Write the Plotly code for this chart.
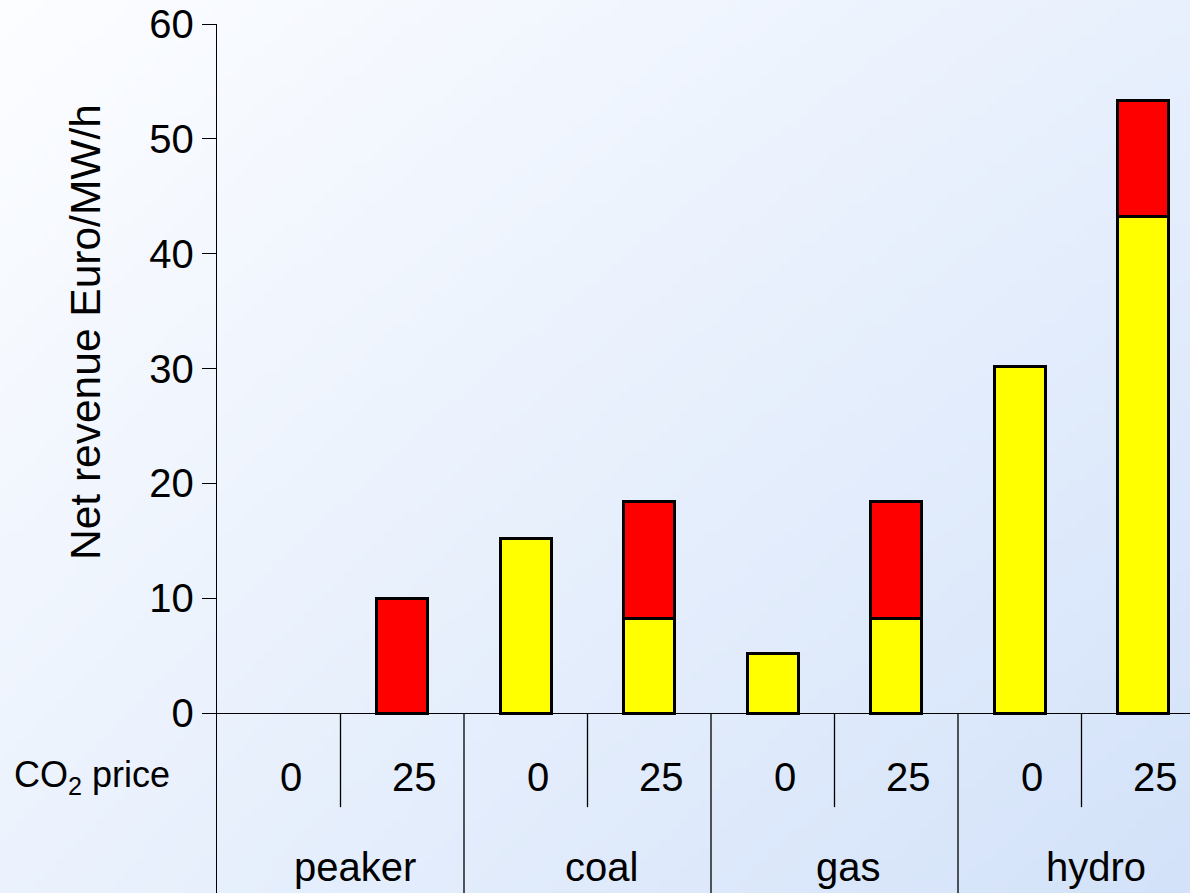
import base64
import struct
import zlib

import numpy as np
import plotly.graph_objects as go

# ---- data -------------------------------------------------------------
technologies = ["peaker", "coal", "gas", "hydro"]
co2_prices = ["0", "25"]
# net revenue without the CO2 effect (yellow) and the CO2-driven part (red)
base_revenue = [None, None, 15.2, 8.2, 5.2, 8.2, 30.2, 43.2]
co2_revenue = [None, 10.0, None, 10.2, None, 10.2, None, 10.1]
y_ticks = [0, 10, 20, 30, 40, 50, 60]
y_title = "Net revenue Euro/MW/h"

# ---- geometry -----------------------------------------------------------
W, H = 1190, 893
ML, MT = 217, 24
PLOT_W, PLOT_H = W - ML, H - MT
Y_MAX = 60
PX_PER_UNIT = (713 - MT) / Y_MAX
Y_MIN = -(H - 713) / PX_PER_UNIT
SLOT_PX = 123.5
X_RANGE = [-0.5, -0.5 + PLOT_W / SLOT_PX]

FONT = "Liberation Sans, Arial, Helvetica, sans-serif"

n_slots = len(technologies) * len(co2_prices)
slots = list(range(n_slots))


# ---- soft diagonal background ------------------------------------------
def gradient_png(w, h, tl, tr, bl, br):
    u = np.linspace(0, 1, w)[None, :, None]
    v = np.linspace(0, 1, h)[:, None, None]
    tl, tr, bl, br = (np.array(c, dtype=float) for c in (tl, tr, bl, br))
    img = (tl * (1 - u) * (1 - v) + tr * u * (1 - v)
           + bl * (1 - u) * v + br * u * v)
    img = np.clip(np.round(img), 0, 255).astype(np.uint8)
    raw = b"".join(b"\x00" + img[r].tobytes() for r in range(h))

    def chunk(tag, data):
        c = struct.pack(">I", len(data)) + tag + data
        return c + struct.pack(">I", zlib.crc32(tag + data) & 0xFFFFFFFF)

    png = (b"\x89PNG\r\n\x1a\n"
           + chunk(b"IHDR", struct.pack(">IIBBBBB", w, h, 8, 2, 0, 0, 0))
           + chunk(b"IDAT", zlib.compress(raw, 9))
           + chunk(b"IEND", b""))
    return "data:image/png;base64," + base64.b64encode(png).decode()


bg = gradient_png(120, 90,
                  (252, 253, 255), (232, 240, 253),
                  (235, 242, 253), (211, 226, 249))

fig = go.Figure()

fig.add_trace(go.Bar(
    x=slots, y=base_revenue, width=0.41,
    marker=dict(color="#ffff00", line=dict(color="black", width=3)),
    showlegend=False, hoverinfo="y",
))
fig.add_trace(go.Bar(
    x=slots, y=co2_revenue, width=0.41,
    marker=dict(color="#ff0000", line=dict(color="black", width=3)),
    showlegend=False, hoverinfo="y",
))

# ---- table below the axis ----------------------------------------------
shapes = []
for k in range(n_slots - 1):
    xb = k + 0.5
    group_edge = (k % 2 == 1)
    shapes.append(dict(
        type="line", xref="x", yref="y",
        x0=xb, x1=xb, y0=0, y1=(Y_MIN if group_edge else -8.2),
        line=dict(color="black", width=1.3), layer="above",
    ))

annotations = []
for i, slot in enumerate(slots):
    annotations.append(dict(
        x=slot, y=-5.57, xref="x", yref="y", xshift=12,
        text=co2_prices[i % len(co2_prices)], showarrow=False,
        font=dict(family=FONT, size=40, color="black"),
        xanchor="center", yanchor="middle",
    ))
for g, name in enumerate(technologies):
    center = g * len(co2_prices) + (len(co2_prices) - 1) / 2
    annotations.append(dict(
        x=center, y=-13.4, xref="x", yref="y", xshift=14,
        text=name, showarrow=False,
        font=dict(family=FONT, size=40, color="black"),
        xanchor="center", yanchor="middle",
    ))

annotations.append(dict(
    x=(12 - ML) / PLOT_W, y=-5.57, xref="paper", yref="y",
    text="CO<sub>2</sub> price", showarrow=False,
    font=dict(family=FONT, size=36, color="black"),
    xanchor="left", yanchor="middle",
))
annotations.append(dict(
    x=(85 - ML) / PLOT_W, y=(H - 332) / PLOT_H, xref="paper", yref="paper",
    text=y_title, showarrow=False, textangle=-90,
    font=dict(family=FONT, size=42.5, color="black"),
    xanchor="center", yanchor="middle",
))

fig.update_layout(
    width=W, height=H,
    margin=dict(l=ML, r=0, t=MT, b=0, pad=0),
    barmode="stack",
    paper_bgcolor="rgba(0,0,0,0)",
    plot_bgcolor="rgba(0,0,0,0)",
    images=[dict(
        source=bg, xref="paper", yref="paper",
        x=-ML / PLOT_W, y=1 + MT / PLOT_H,
        sizex=W / PLOT_W, sizey=H / PLOT_H,
        xanchor="left", yanchor="top", sizing="stretch", layer="below",
    )],
    shapes=shapes,
    annotations=annotations,
    xaxis=dict(
        range=X_RANGE, showgrid=False, zeroline=False,
        showline=False, showticklabels=False, ticks="",
    ),
    yaxis=dict(
        range=[Y_MIN, Y_MAX], tickvals=y_ticks,
        ticktext=[str(t) for t in y_ticks],
        showgrid=False, zeroline=True, zerolinecolor="black",
        zerolinewidth=1.3, showline=True, linecolor="black", linewidth=1.3,
        ticks="outside", ticklen=14, tickcolor="black", tickwidth=1.3,
        tickfont=dict(family=FONT, size=40, color="black"),
    ),
    font=dict(family=FONT, color="black"),
)

fig.write_html("out.html")
